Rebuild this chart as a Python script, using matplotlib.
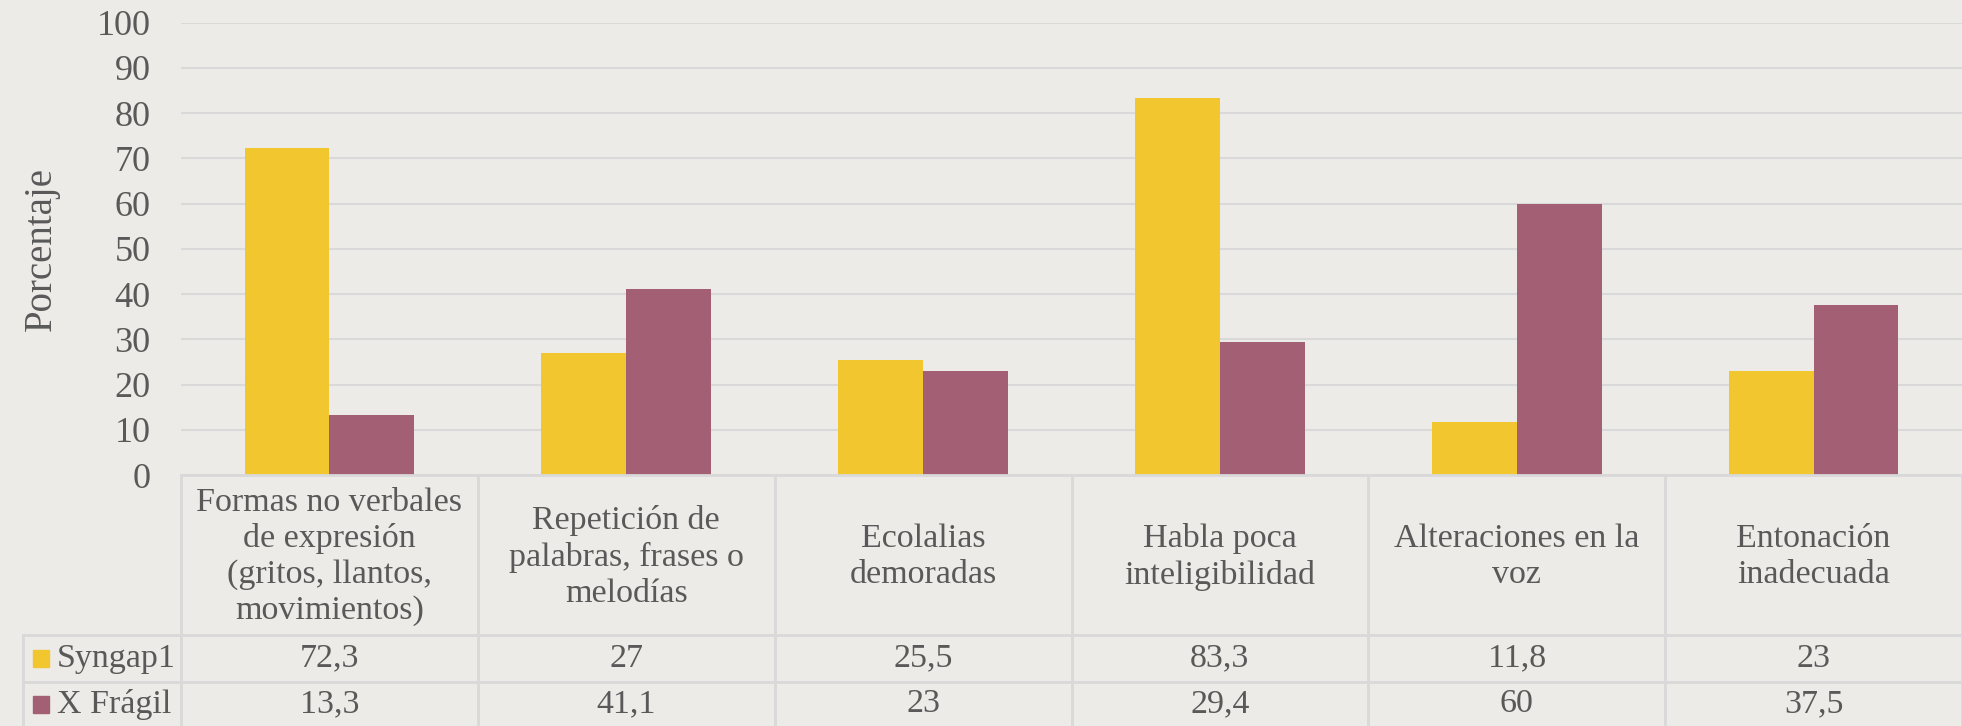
import numpy as np
import matplotlib.pyplot as plt

categories = ["Formas no verbales\nde expresión\n(gritos, llantos,\nmovimientos)",
              "Repetición de\npalabras, frases o\nmelodías",
              "Ecolalias\ndemoradas",
              "Habla poca\ninteligibilidad",
              "Alteraciones en la\nvoz",
              "Entonación\ninadecuada"]
syngap = [72.3, 27, 25.5, 83.3, 11.8, 23]
fragil = [13.3, 41.1, 23, 29.4, 60, 37.5]
series_names = ["Syngap1", "X Frágil"]

yellow = "#F2C62E"
mauve = "#A35F74"
bg = "#EDEBE8"
grid_c = "#D9D9D9"
txt = "#595959"
font = "Liberation Serif"
fs = 24.5

W, H = 1962, 726
fig = plt.figure(figsize=(W / 100, H / 100), dpi=100, facecolor=bg)

# main plot area in pixels
x0, x1 = 181, 1962
y_top, y_zero = 22.7, 475
ax = fig.add_axes([x0 / W, (H - y_zero) / H, (x1 - x0) / W, (y_zero - y_top) / H])
ax.set_facecolor(bg)

n = len(categories)
x = np.arange(n)
bw = 1 / 3.5
ax.bar(x - bw / 2, syngap, bw, color=yellow, zorder=3)
ax.bar(x + bw / 2, fragil, bw, color=mauve, zorder=3)
ax.set_xlim(-0.5, n - 0.5)
ax.set_ylim(0, 100)
ax.set_yticks(range(0, 101, 10))
ax.set_xticks([])
ax.grid(axis="y", color=grid_c, linewidth=1.5, zorder=0)
for s in ax.spines.values():
    s.set_visible(False)
ax.tick_params(axis="y", length=0, pad=22, labelcolor=txt, labelsize=26)
for lab in ax.get_yticklabels():
    lab.set_fontfamily(font)
ax.set_ylabel("Porcentaje", fontsize=28, color=txt, fontfamily=font, labelpad=26)

# data table drawn on an overlay in pixel coordinates
tb = fig.add_axes([0, 0, 1, 1], facecolor="none")
tb.set_xlim(0, W)
tb.set_ylim(H, 0)
tb.axis("off")

col_w = (x1 - x0) / n
row_cat = (y_zero, 635)
row1 = (635, 682)
row2 = (682, H)
legend_x = 23
lc = grid_c
lw = 2

tb.plot([x0, x1], [y_zero, y_zero], color=lc, lw=lw)
for i in range(n + 1):
    cx = x0 + i * col_w
    tb.plot([cx, cx], [y_zero, H], color=lc, lw=lw)
tb.plot([legend_x, legend_x], [row1[0], H], color=lc, lw=lw)
tb.plot([legend_x, x1], [row1[0], row1[0]], color=lc, lw=lw)
tb.plot([legend_x, x1], [row2[0], row2[0]], color=lc, lw=lw)

for i, c in enumerate(categories):
    cx = x0 + (i + 0.5) * col_w
    tb.text(cx, (row_cat[0] + row_cat[1]) / 2 + 2, c, ha="center", va="center",
            fontsize=fs, color=txt, fontfamily=font, linespacing=1.22)
    tb.text(cx, (row1[0] + row1[1]) / 2, f"{syngap[i]:g}".replace(".", ","),
            ha="center", va="center", fontsize=fs, color=txt, fontfamily=font)
    tb.text(cx, (row2[0] + row2[1]) / 2, f"{fragil[i]:g}".replace(".", ","),
            ha="center", va="center", fontsize=fs, color=txt, fontfamily=font)

for name, col, row in zip(series_names, [yellow, mauve], [row1, row2]):
    cy = (row[0] + row[1]) / 2
    tb.add_patch(plt.Rectangle((33, cy - 8.5), 16, 17, color=col))
    tb.text(57, cy, name, ha="left", va="center", fontsize=fs, color=txt, fontfamily=font)

fig.savefig("out.png", dpi=100, facecolor=bg)
